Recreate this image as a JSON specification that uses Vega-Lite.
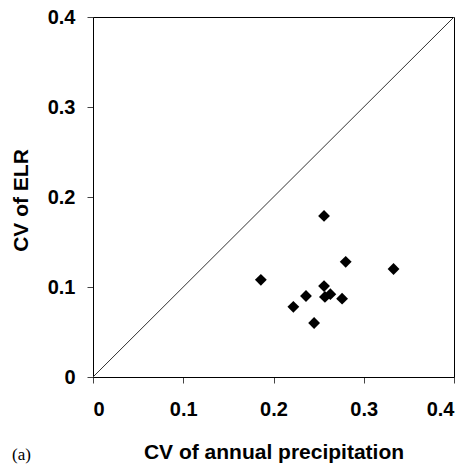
{
  "$schema": "https://vega.github.io/schema/vega-lite/v6.json",
  "width": 361,
  "height": 360,
  "autosize": {"type": "none"},
  "padding": {"left": 93, "top": 17, "right": 17, "bottom": 93},
  "background": "white",
  "title": {
    "text": "(a)",
    "orient": "bottom",
    "anchor": "start",
    "frame": "group",
    "font": "Liberation Serif",
    "fontSize": 17,
    "fontWeight": "normal",
    "color": "black",
    "dx": -81,
    "dy": -15,
    "offset": 0
  },
  "config": {
    "view": {"stroke": "black", "strokeWidth": 1},
    "axis": {
      "grid": false,
      "domainColor": "black",
      "domainWidth": 1,
      "tickColor": "#444",
      "tickSize": 6,
      "labelFont": "Liberation Sans",
      "labelFontSize": 20,
      "labelFontWeight": "bold",
      "labelColor": "black",
      "titleFont": "Liberation Sans",
      "titleFontSize": 21,
      "titleFontWeight": "bold",
      "titleColor": "black"
    }
  },
  "layer": [
    {
      "data": {"values": [{"a": 0, "b": 0}, {"a": 0.4, "b": 0.4}]},
      "mark": {"type": "line", "color": "#333", "strokeWidth": 1},
      "encoding": {
        "x": {"field": "a", "type": "quantitative"},
        "y": {"field": "b", "type": "quantitative"}
      }
    },
    {
      "data": {
        "values": [
          {"precip_cv": 0.256, "elr_cv": 0.179},
          {"precip_cv": 0.280, "elr_cv": 0.128},
          {"precip_cv": 0.186, "elr_cv": 0.108},
          {"precip_cv": 0.256, "elr_cv": 0.101},
          {"precip_cv": 0.236, "elr_cv": 0.090},
          {"precip_cv": 0.263, "elr_cv": 0.092},
          {"precip_cv": 0.257, "elr_cv": 0.089},
          {"precip_cv": 0.276, "elr_cv": 0.087},
          {"precip_cv": 0.222, "elr_cv": 0.078},
          {"precip_cv": 0.245, "elr_cv": 0.060},
          {"precip_cv": 0.333, "elr_cv": 0.120}
        ]
      },
      "mark": {"type": "point", "shape": "diamond", "filled": true, "color": "black", "opacity": 1, "size": 140},
      "encoding": {
        "x": {
          "field": "precip_cv",
          "type": "quantitative",
          "title": "CV of annual precipitation",
          "scale": {"domain": [0, 0.4], "nice": false},
          "axis": {
            "values": [0, 0.1, 0.2, 0.3, 0.4],
            "format": ".1~f",
            "labelPadding": 16,
            "titleBaseline": "alphabetic",
            "titleY": 81
          }
        },
        "y": {
          "field": "elr_cv",
          "type": "quantitative",
          "title": "CV of ELR",
          "scale": {"domain": [0, 0.4], "nice": false},
          "axis": {
            "values": [0, 0.1, 0.2, 0.3, 0.4],
            "format": ".1~f",
            "labelPadding": 12,
            "titleBaseline": "alphabetic",
            "titleX": -66,
            "titleY": 183
          }
        }
      }
    }
  ]
}
